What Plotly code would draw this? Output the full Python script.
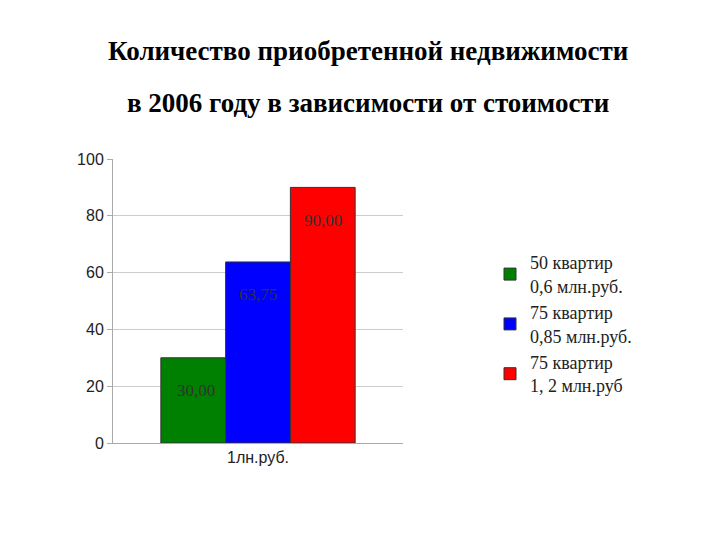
import plotly.graph_objects as go

category = ["1лн.руб."]
series_names = ["50 квартир<br>0,6 млн.руб.", "75 квартир<br>0,85 млн.руб.", "75 квартир<br>1, 2 млн.руб"]
values = [30.00, 63.75, 90.00]
colors = ["#008000", "#0000ff", "#ff0000"]
title_lines = ["Количество приобретенной недвижимости", "в 2006 году в зависимости от стоимости"]

fig = go.Figure()
for name, v, c in zip(series_names, values, colors):
    fig.add_trace(go.Bar(x=category, y=[v], name=name, marker=dict(color=c, line=dict(color="#333333", width=1))))

# value labels sit a little below each bar's top
offsets = [-62, 0, 65]
for v, dx in zip(values, offsets):
    fig.add_annotation(x=category[0], y=v, text=f"{v:.2f}".replace(".", ","), showarrow=False,
                       xshift=dx, yshift=-33, font=dict(family="Liberation Serif", size=17, color="#333333"))

# title as two separate lines, spaced like the slide
for line, ypx in zip(title_lines, [43, 95]):
    fig.add_annotation(xref="paper", yref="paper", x=(360 - 105) / 290, y=(435 - ypx) / 284,
                       text=f"<b>{line}</b>", showarrow=False, xanchor="center", yanchor="middle",
                       font=dict(family="Liberation Serif", size=27, color="black"))

fig.update_layout(
    width=720, height=540, paper_bgcolor="white", plot_bgcolor="white",
    margin=dict(l=105, r=325, t=151, b=105, autoexpand=False),
    bargap=0.33, bargroupgap=0,
    font=dict(family="Liberation Sans", size=16, color="#222222"),
    legend=dict(x=1.3, y=0.7, xanchor="left", yanchor="top",
                font=dict(family="Liberation Serif", size=18, color="#222222"),
                tracegroupgap=6),
    showlegend=True,
)
fig.update_yaxes(range=[0, 100], dtick=20, showgrid=True, gridcolor="#cccccc",
                 showline=True, linecolor="#aaaaaa", ticks="outside", tickcolor="#aaaaaa", ticklen=5)
fig.update_xaxes(showline=True, linecolor="#aaaaaa", ticks="outside", tickcolor="#aaaaaa",
                 ticklen=0, tickfont=dict(family="Liberation Sans", size=16))
fig.write_html("out.html")
